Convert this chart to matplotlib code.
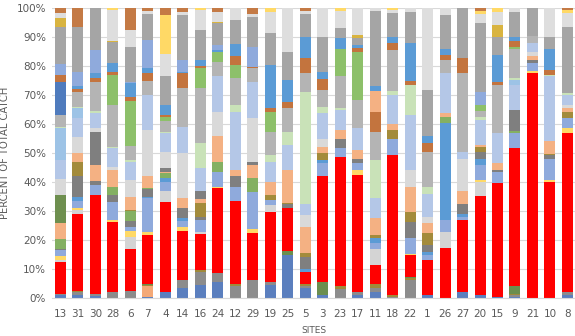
import numpy as np
import matplotlib.pyplot as plt

# percent of total catch by site, stacked species (bottom -> top)
sites = ["13", "31", "30", "28", "6", "7", "4", "14", "16", "24", "12", "29", "19", "25", "5",
         "3", "23", "17", "11", "18", "22", "1", "26", "27", "20", "15", "9", "21", "10", "8"]

sb = [1.0, 1.2, 0.8, 0, 0, 0.3, 2.2, 3.5, 4.5, 5.6, 0, 0, 4.5, 14.8, 3.6, 1, 0, 1.2, 2.2, 0,
      0, 1, 0, 2, 1, 0.5, 0.5, 0, 0, 1]
spe = [0, 0, 0, 0, 0, 3.7, 0, 0, 0, 0, 0, 0, 0, 0, 0, 0, 0, 0, 0, 0,
       0, 0, 0, 0, 0, 0, 0, 0, 0, 0]
sg = [0.3, 0.8, 0.5, 2.2, 2.4, 0, 0, 2.7, 4.5, 2.9, 4.3, 6.2, 0.9, 0, 0.5, 0, 3, 1, 1.1, 0.5,
      6.2, 0, 0, 0, 0, 0, 0.5, 0, 0, 1]
so = [0, 0.4, 0, 0, 0, 0.5, 0, 0, 0.7, 0, 0.7, 0, 0, 0, 0.6, 0, 1.3, 0, 1.7, 0.5,
      0.7, 0, 0, 0, 0, 0, 0.5, 0, 0, 0]
sgr = [0, 0, 0, 0, 0, 0.5, 0, 0, 0, 0, 0, 0, 0, 1.4, 0, 4.6, 0, 0, 0, 0,
       0.5, 0, 0, 0, 0, 0, 2.5, 0, 0, 0]
red = [11.0, 26.5, 34.2, 24.1, 14.6, 16.7, 30.8, 16.8, 12.3, 29.3, 28.5, 16.1, 24.4, 14.8, 4.3,
       36.4, 44.5, 40.2, 6.4, 48.3, 7.4, 12, 17.4, 25, 34.3, 39.1, 47.6, 77.5, 40, 54.8]
lgl = [0.7, 1.5, 0, 0, 4, 0, 4, 0, 0.9, 0, 0, 0, 2.2, 0, 0, 0, 0, 0, 5.6, 0,
       0, 0, 5.5, 0, 4.7, 0, 0, 0, 0, 0]
yel = [1.6, 0.8, 0, 0.7, 2, 1, 0, 1.6, 0, 0.6, 0, 1.5, 0, 0, 0, 0, 0, 1.6, 0, 0,
       0.3, 0, 0, 0, 0.7, 0, 0, 0.8, 0.7, 1.7]
per = [1.9, 2.3, 3.5, 6, 1.5, 11.7, 3, 2, 4.1, 5.2, 4.9, 12.9, 1.8, 0, 0, 4.5, 2.8, 2.5, 2, 5.7,
       5.5, 2, 4.1, 1, 5.3, 4, 5.2, 2.7, 7.3, 3.5]
blo = [0, 1.5, 0, 0, 0, 0.6, 1.5, 1, 0, 0, 0, 0, 0, 0, 1, 1, 0, 0, 1.6, 0,
       0, 1, 33.3, 1, 2, 0, 0, 0, 0, 0]
dg = [0.5, 7, 1.5, 2.5, 2, 2.5, 0, 3.4, 1, 0, 3.6, 0, 0, 1.3, 4.3, 0, 3.4, 1.5, 0, 0,
      5.7, 2.3, 0, 3.4, 2.5, 0.6, 0, 1.2, 1.3, 0]
gl = [3.5, 0, 0, 2.9, 3.5, 0.5, 1.5, 0, 0, 3.4, 0, 4.6, 0, 0, 0, 0, 0, 0, 0, 0,
      0, 0, 2, 0, 0, 0, 0.7, 0, 0, 0]
om = [0, 5, 0, 0, 0.5, 0, 0, 0, 4.7, 0, 0, 0, 1.7, 0.5, 1.4, 2.5, 0, 0, 1.1, 3,
      3.5, 4, 0, 0, 1.5, 0, 0, 0, 0.5, 2]
pe = [5.5, 3, 5.5, 5.6, 4.5, 4, 0.5, 3.4, 1.3, 9, 2, 4.7, 4.5, 11.2, 8.9, 2.2, 3, 3, 5.8, 2,
      8.6, 3.5, 1.5, 4.6, 0.8, 2.3, 0, 1.2, 4.2, 1.5]
dgm = [9.5, 0, 0, 0, 0, 0, 0, 0, 0, 0, 0, 0, 0, 0, 0, 0, 0, 0, 0, 0,
       0, 0, 0, 0, 0, 0, 0, 0, 0, 0]
dg2 = [0, 0, 11.4, 0, 0, 0, 1.5, 0, 3, 0, 0, 1, 0, 0, 0, 0, 0, 0, 0, 0,
       0, 0, 0, 0, 0, 0, 7.5, 0, 0, 0]
lg = [5.5, 5.7, 1.4, 1.3, 5.7, 16, 5.5, 15.6, 0, 8.3, 0, 15, 0, 0, 4, 2.8, 0, 0, 0, 0,
      5.8, 2.2, 0, 11, 0, 0, 0, 1.6, 0, 1]
pb = [6.6, 6.3, 4.9, 6.3, 6.3, 12, 6.3, 9, 8, 12.1, 20.3, 12.6, 7, 8.8, 3.7, 8.7, 7, 7.5, 6.9, 10,
      18.8, 8, 13.7, 2.5, 8.6, 10.3, 8.5, 3, 22.4, 3.5]
sk = [10.9, 3.4, 0, 0, 0, 0, 0, 0, 0, 0, 0, 0, 0, 0, 0, 0, 0, 0, 0, 0,
      0, 0, 0, 0, 0, 0, 1.7, 0, 0, 0]
lgr = [0.5, 0.6, 0.8, 0.4, 0.5, 0, 0.6, 0, 8.4, 0, 2.3, 0, 2.3, 4.6, 38.7, 2.3, 0.4, 0, 13.2, 1.4,
       10.5, 2.4, 0, 0, 1, 0, 0.6, 0, 0.6, 0.6]
g = [4, 5, 10.1, 14.6, 5, 5, 3.6, 13.3, 18.9, 5.1, 9.2, 4.6, 8.1, 8, 6.5, 5.8, 11, 9.8, 9.8, 14.2,
     0, 12.1, 4.5, 27, 2.2, 16.7, 10.2, 2.5, 0, 0]
st = [11.6, 0, 0, 0, 0, 0, 0, 0, 0, 0, 0, 0, 0, 0, 0, 0, 0, 0, 0, 0,
      0, 0, 0, 0, 0, 0, 0, 0, 0, 0]
gr = [0, 0, 0, 10.4, 15.5, 0, 1.5, 0, 7.2, 3.5, 4.5, 0, 6.9, 0, 0, 0, 9.6, 16.7, 0, 0,
      0, 0, 0, 0, 2, 0, 0.5, 0, 0, 0]
br = [2.4, 1.2, 1.4, 1, 1.5, 2.5, 0.5, 5.2, 0.5, 0, 3, 0.6, 1.1, 2.3, 5.2, 3.7, 0, 1.2, 6.9, 2.4,
      1.5, 2.9, 1.8, 5.2, 0, 1, 2, 0, 1.5, 0]
pe2 = [0, 0, 0, 0, 0, 0, 0, 0, 0, 0, 0, 0, 0, 0, 0, 0, 0, 0, 7, 0,
       0, 0, 0, 0, 0, 0, 0, 0, 0, 0]
bu = [0, 1, 1.6, 3, 4.5, 2, 3.6, 0.5, 2, 0.5, 4.2, 0, 15, 7.5, 7.3, 2.5, 3.6, 1.2, 1.7, 2,
      13, 2.6, 2.2, 0, 0, 9.3, 1.5, 0, 7.5, 0]
p2 = [3.6, 4.8, 8, 0, 0.6, 9.5, 0, 4, 0, 1.8, 0, 6.9, 0, 0, 0, 0, 0, 0, 0, 0,
      0, 0, 0, 0, 4.6, 0, 0, 0, 0, 0]
g2 = [13, 15.6, 14.4, 7.4, 12.1, 9, 9.8, 15.5, 10.5, 7.5, 8.5, 10.3, 10.9, 9.8, 8, 12, 3.4, 2.2, 26, 8.2,
      10.8, 15.8, 11.6, 17.3, 23.6, 6.2, 8.8, 9.5, 4, 23]
go = [3.1, 0, 0, 0.3, 0, 0, 0, 0, 0, 0.5, 0, 0, 0, 0, 0, 0, 0, 1.1, 0, 0,
      0, 0, 0, 0, 0, 4, 0, 0, 0, 0]
lg2 = [1.5, 0, 0, 10.7, 5.8, 1, 7.6, 1, 6.9, 3.5, 4, 1, 7.5, 15, 1, 10, 6, 9.3, 1, 1.3,
       1.2, 28.2, 2.4, 0, 3.2, 4.8, 1.2, 0, 10, 4.6]
y2 = [0, 0, 0, 0.6, 0, 0, 13.6, 0, 0.6, 0, 0, 0, 1.2, 0, 0, 0, 1, 0, 0, 0.5,
      0, 0, 0, 0, 1, 1.2, 0, 0, 0, 1]
b2 = [1.8, 6.4, 0, 0, 7.5, 1, 2.4, 1.5, 0, 1.2, 0, 2, 0, 0, 1, 0, 0, 0, 0, 0,
      0, 0, 0, 0, 1, 0, 0, 0, 0, 0.8]

layers = [
    (sb, "#5b7fbe"), (spe, "#f4a977"), (sg, "#8c8c8c"), (so, "#a08a3a"), (sgr, "#6b8e4e"),
    (red, "#ff0000"), (lgl, "#d4d4d4"), (yel, "#ffd966"), (per, "#8faadc"), (blo, "#5b9bd5"),
    (dg, "#7f7f7f"), (gl, "#84b062"), (om, "#a38b3b"), (pe, "#f4b183"), (dgm, "#6e8f4f"),
    (dg2, "#7f7f7f"), (lg, "#d9d9d9"), (pb, "#b4c7e7"), (sk, "#9dc3e6"), (lgr, "#c9e2b8"),
    (g, "#b4b4b4"), (st, "#4f7bbd"), (gr, "#8dc06a"), (br, "#c3743e"), (pe2, "#f4b183"),
    (bu, "#5b9bd5"), (p2, "#8faadc"), (g2, "#a5a5a5"), (go, "#d9b440"), (lg2, "#dedede"),
    (y2, "#ffd966"), (b2, "#c47a45"),
]

data = np.array([v for v, c in layers], dtype=float)
pct = data / data.sum(axis=0) * 100   # percent of total catch

fig = plt.figure(figsize=(5.75, 3.36), dpi=100)
ax = fig.add_axes([0.090, 0.113, 0.912, 0.863])
x = np.arange(len(sites))
bottom = np.zeros(len(sites))
for row, (_, color) in zip(pct, layers):
    ax.bar(x, row, 0.63, bottom=bottom, color=color, linewidth=0, zorder=2)
    bottom += row

ax.set_xlim(-0.5, len(sites) - 0.5)
ax.set_ylim(0, 100)
ax.set_yticks(np.arange(0, 101, 10))
ax.set_yticklabels([f"{t}%" for t in range(0, 101, 10)])
ax.set_xticks(x)
ax.set_xticklabels(sites)
ax.grid(axis="y", color="#d9d9d9", linewidth=0.8, zorder=0)
for s in ["top", "right", "left"]:
    ax.spines[s].set_visible(False)
ax.spines["bottom"].set_color("#d9d9d9")
ax.tick_params(length=0, labelsize=7.5, labelcolor="#595959")
ax.tick_params(axis="x", pad=8)
ax.tick_params(axis="y", pad=4)

ax.set_ylabel("PERCENT OF TOTAL CATCH", fontsize=7.2, color="#595959")
ax.yaxis.set_label_coords(-0.08, 0.5)
ax.set_xlabel("SITES", fontsize=6.5, color="#595959")
ax.xaxis.set_label_coords(0.5, -0.095)

fig.savefig("out.png", dpi=100)
